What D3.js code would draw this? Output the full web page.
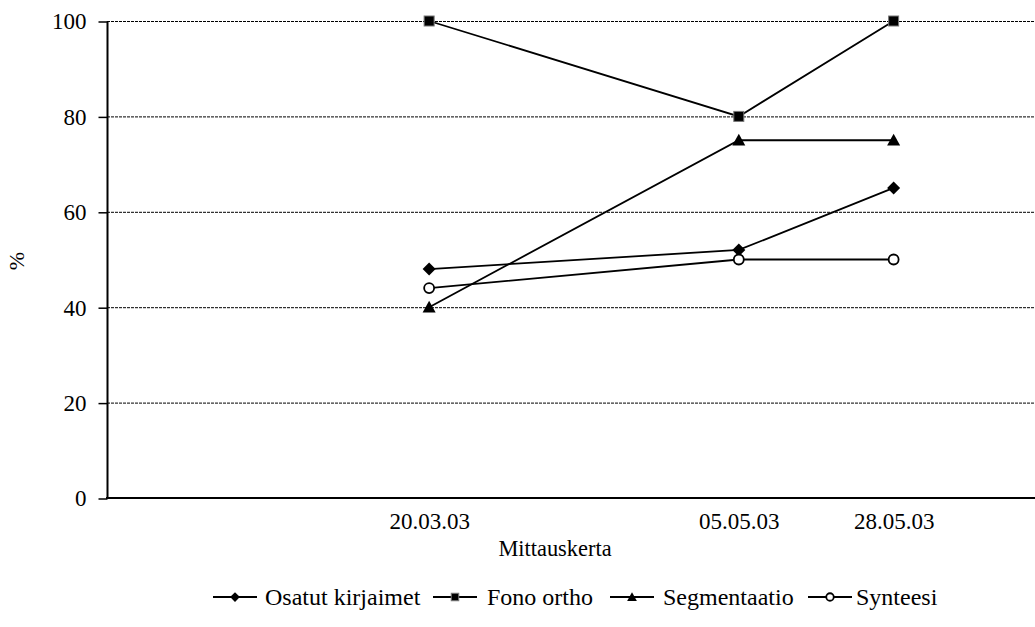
<!DOCTYPE html>
<html><head><meta charset="utf-8">
<script src="https://cdn.jsdelivr.net/npm/d3@7"></script>
<style>body{margin:0;background:#fff}svg{display:block}</style>
</head><body>
<svg id="c" width="1035" height="627"></svg>
<script>
const dates = ["2003-03-20", "2003-05-05", "2003-05-28"];
const dateLabels = ["20.03.03", "05.05.03", "28.05.03"];
const seriesNames = ["Osatut kirjaimet", "Fono ortho", "Segmentaatio", "Synteesi"];
const osatut = [48, 52, 65];
const fono = [100, 80, 100];
const segmentaatio = [40, 75, 75];
const synteesi = [44, 50, 50];
const yTicks = [0, 20, 40, 60, 80, 100];

const series = [
  {name: seriesNames[0], values: osatut, marker: "diamond"},
  {name: seriesNames[1], values: fono, marker: "square"},
  {name: seriesNames[2], values: segmentaatio, marker: "triangle"},
  {name: seriesNames[3], values: synteesi, marker: "circle"}
];

const FONT = '"Liberation Serif"';
const svg = d3.select("#c");
const parse = d3.timeParse("%Y-%m-%d");
const x = d3.scaleTime().domain([parse("2003-01-31"), parse("2003-06-18")]).range([106, 1035]);
const y = d3.scaleLinear().domain([0, 100]).range([498, 21]);

// gridlines
svg.append("g").selectAll("line").data(yTicks.filter(d => d > 0)).join("line")
  .attr("x1", 107).attr("x2", 1035)
  .attr("y1", d => y(d) + 0.5).attr("y2", d => y(d) + 0.5)
  .attr("stroke", "#000").attr("stroke-width", 1).attr("stroke-dasharray", "3,1");

// y axis
const yAxis = d3.axisLeft(y).tickValues(yTicks).tickSize(9).tickPadding(12).tickFormat(d3.format("d"));
const gy = svg.append("g").attr("transform", "translate(107.5,0.5)").call(yAxis);
gy.select(".domain").attr("stroke-width", 2).attr("d", `M0,${y(100)}V${y(0)}`);
gy.selectAll(".tick line").attr("stroke-width", 1.5);
gy.selectAll("text").style("font-family", FONT).style("font-size", "23px").attr("fill", "#000");

// x axis
const xAxis = d3.axisBottom(x).tickValues(dates.map(parse)).tickSize(0).tickPadding(15)
  .tickFormat((d, i) => dateLabels[i]);
const gx = svg.append("g").attr("transform", `translate(0,${y(0)})`).call(xAxis);
gx.select(".domain").attr("stroke-width", 2).attr("d", "M106,0H1035");
gx.selectAll("text").style("font-family", FONT).style("font-size", "23px").attr("fill", "#000");

// axis titles
svg.append("text").attr("x", 555).attr("y", 556).attr("text-anchor", "middle")
  .style("font-family", FONT).style("font-size", "22.4px").text("Mittauskerta");
svg.append("text").attr("transform", "translate(24,261) rotate(-90)").attr("text-anchor", "middle")
  .style("font-family", FONT).style("font-size", "22px").text("%");

function drawMarker(g, type, cx, cy, scale) {
  scale = scale || 1;
  if (type === "diamond") {
    const s = 6.5 * scale;
    g.append("path").attr("d", `M${cx},${cy - s}L${cx + s},${cy}L${cx},${cy + s}L${cx - s},${cy}Z`).attr("fill", "#000");
  } else if (type === "square") {
    const s = 5 * scale;
    g.append("rect").attr("x", cx - s).attr("y", cy - s).attr("width", 2 * s).attr("height", 2 * s)
      .attr("fill", "#000").attr("stroke", "#777").attr("stroke-width", 1);
  } else if (type === "triangle") {
    const s = 6.5 * scale;
    g.append("path").attr("d", `M${cx},${cy - s}L${cx + s},${cy + s * 0.8}L${cx - s},${cy + s * 0.8}Z`).attr("fill", "#000");
  } else {
    const r = 5 * scale;
    g.append("circle").attr("cx", cx).attr("cy", cy).attr("r", r).attr("fill", "#fff").attr("stroke", "#000").attr("stroke-width", 1.8);
  }
}

const line = d3.line().x((d, i) => x(parse(dates[i]))).y(d => y(d));
series.forEach(s => {
  const g = svg.append("g");
  g.append("path").attr("d", line(s.values)).attr("fill", "none").attr("stroke", "#000").attr("stroke-width", 1.8);
  s.values.forEach((v, i) => drawMarker(g, s.marker, x(parse(dates[i])), y(v)));
});

// legend
const legendPos = [[213, 265], [433, 487], [610, 663], [808, 856]];
const lg = svg.append("g");
series.forEach((s, i) => {
  const [lx, tx] = legendPos[i];
  const cy = 597;
  lg.append("line").attr("x1", lx).attr("x2", lx + 44).attr("y1", cy).attr("y2", cy).attr("stroke", "#000").attr("stroke-width", 1.8);
  drawMarker(lg, s.marker, lx + 22, cy, 0.75);
  lg.append("text").attr("x", tx).attr("y", cy + 8).style("font-family", FONT).style("font-size", "24px").text(s.name);
});
</script>
</body></html>
